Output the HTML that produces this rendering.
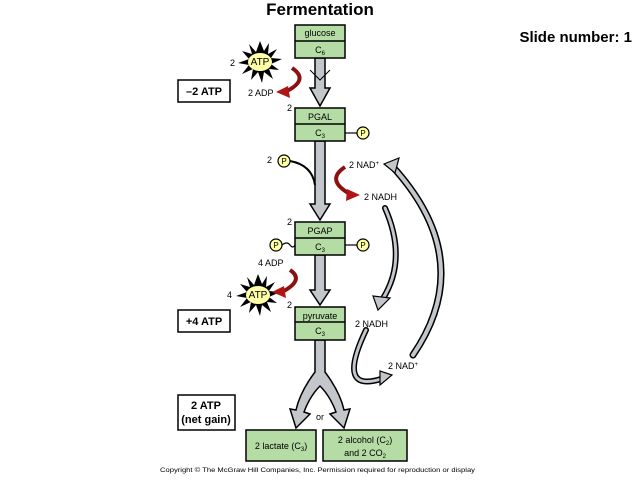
<!DOCTYPE html>
<html><head><style>body{margin:0;background:#fff}svg{display:block}text{font-family:"Liberation Sans",sans-serif}</style></head><body>
<svg width="640" height="480" viewBox="0 0 640 480" xmlns="http://www.w3.org/2000/svg">
<defs>
<g id="star"><polygon points="0,-21 4,-11 9,-19 8,-8 17,-13 11,-4 22,-3 11,2 19,8 9,7 13,17 4,10 2,21 -2,10 -9,18 -7,7 -18,12 -11,3 -22,1 -11,-3 -18,-11 -8,-8 -11,-18 -4,-10" fill="#000"/><ellipse cx="0" cy="0" rx="12" ry="9" fill="#ffffa8"/></g>
</defs>
<text x="320" y="15" font-size="17" font-weight="bold" text-anchor="middle">Fermentation</text>
<text x="632" y="42" font-size="15" font-weight="bold" text-anchor="end">Slide number: 1</text>
<g fill="#c3c7cc" stroke="#000" stroke-width="1.5">
<polygon points="315,58 325,58 325,88 330,88 320,106 310,88 315,88"/>
<polygon points="315,141 325,141 325,204 330,204 320,220 310,204 315,204"/>
<polygon points="315,255 325,255 325,290 330,290 320,305 310,290 315,290"/>
<path d="M315,340 L325,340 L325,372 Q340,392 344,410 L350,409 L344,428 L330,414 L336,412 Q330,396 320,386 Q310,396 304,412 L310,414 L296,428 L290,409 L296,410 Q300,392 315,372 Z"/>
</g>
<polyline points="310,70 320,80 330,70" fill="none" stroke="#000"/>
<g fill="#b5dca5" stroke="#000" stroke-width="1.5">
<rect x="295" y="25" width="50" height="33"/><line x1="295" y1="41" x2="345" y2="41"/>
<rect x="295" y="108" width="50" height="33"/><line x1="295" y1="124" x2="345" y2="124"/>
<rect x="295" y="222" width="50" height="33"/><line x1="295" y1="238" x2="345" y2="238"/>
<rect x="295" y="307" width="50" height="33"/><line x1="295" y1="322" x2="345" y2="322"/>
<rect x="246" y="430" width="70" height="31"/>
<rect x="323" y="430" width="84" height="31"/>
</g>
<g font-size="9" text-anchor="middle">
<text x="320" y="36">glucose</text><text x="320" y="53">C<tspan font-size="6" dy="2">6</tspan></text>
<text x="320" y="120">PGAL</text><text x="320" y="136">C<tspan font-size="6" dy="2">3</tspan></text>
<text x="320" y="234">PGAP</text><text x="320" y="250">C<tspan font-size="6" dy="2">3</tspan></text>
<text x="320" y="319">pyruvate</text><text x="320" y="334">C<tspan font-size="6" dy="2">3</tspan></text>
<text x="281" y="449">2 lactate (C<tspan font-size="6" dy="2">3</tspan><tspan dy="-2">)</tspan></text>
<text x="365" y="443">2 alcohol (C<tspan font-size="6" dy="2">2</tspan><tspan dy="-2">)</tspan></text>
<text x="365" y="456">and 2 CO<tspan font-size="6" dy="2">2</tspan></text>
<text x="320" y="420">or</text>
</g>
<g fill="#fff" stroke="#000" stroke-width="1.5">
<rect x="178" y="80" width="52" height="22"/><rect x="178" y="310" width="52" height="22"/><rect x="178" y="395" width="57" height="35"/>
</g>
<g font-size="11" font-weight="bold" text-anchor="middle">
<text x="204" y="95">–2 ATP</text><text x="204" y="325">+4 ATP</text>
<text x="206" y="409">2 ATP</text><text x="206" y="423">(net gain)</text>
</g>
<use href="#star" x="260" y="62"/><use href="#star" x="258" y="295"/>
<g font-size="9">
<text x="260" y="65" font-size="10" text-anchor="middle">ATP</text>
<text x="258" y="298" font-size="10" text-anchor="middle">ATP</text>
<text x="230" y="66">2</text><text x="227" y="298">4</text>
<text x="248" y="96">2 ADP</text>
<text x="258" y="266">4 ADP</text>
<text x="287" y="111">2</text><text x="287" y="225">2</text><text x="287" y="308">2</text>
<text x="267" y="163">2</text>
<text x="349" y="168">2 NAD<tspan font-size="6" dy="-3">+</tspan></text>
<text x="364" y="200">2 NADH</text>
<text x="355" y="327">2 NADH</text>
<text x="388" y="369">2 NAD<tspan font-size="6" dy="-3">+</tspan></text>
</g>
<g fill="none" stroke="#8b1010" stroke-width="4">
<path d="M292,68 Q310,80 285,92"/><path d="M290,270 Q305,280 282,292"/><path d="M345,167 Q325,180 350,194"/>
</g>
<g fill="#b01515"><polygon points="288,86 290,98 276,92"/><polygon points="284,286 286,298 272,292"/><polygon points="347,189 360,195 346,201"/></g>
<g stroke="#000" stroke-width="1.2">
<line x1="345" y1="133" x2="357" y2="133"/><line x1="345" y1="245" x2="357" y2="245"/><path d="M282,245 q5,-4 8,0 t5,0" fill="none"/>
<path d="M290,161 Q312,165 315,185" fill="none" stroke-width="2"/>
</g>
<g fill="#ffffa8" stroke="#000" stroke-width="1.2">
<circle cx="363" cy="133" r="6"/><circle cx="363" cy="245" r="6"/><circle cx="276" cy="245" r="6"/><circle cx="284" cy="161" r="6"/>
</g>
<g font-size="8" text-anchor="middle"><text x="363" y="136">P</text><text x="363" y="248">P</text><text x="276" y="248">P</text><text x="284" y="164">P</text></g>
<g fill="none" stroke-linecap="round">
<path d="M385,208 Q408,260 382,300" stroke="#000" stroke-width="6"/><path d="M385,208 Q408,260 382,300" stroke="#c3c7cc" stroke-width="3"/>
<path d="M413,355 Q478,260 392,166" stroke="#000" stroke-width="7"/><path d="M413,355 Q478,260 392,166" stroke="#c3c7cc" stroke-width="4"/>
<path d="M366,330 Q335,395 384,378" stroke="#000" stroke-width="6"/><path d="M366,330 Q335,395 384,378" stroke="#c3c7cc" stroke-width="3"/>
</g>
<g fill="#c3c7cc" stroke="#000" stroke-width="1.2">
<polygon points="373,296 390,298 378,310"/><polygon points="384,164 399,158 395,173"/><polygon points="380,371 392,375 380,385"/>
</g>
<text x="160" y="472" font-size="6.3" textLength="315" lengthAdjust="spacingAndGlyphs">Copyright © The McGraw Hill Companies, Inc. Permission required for reproduction or display</text>
</svg>
</body></html>
